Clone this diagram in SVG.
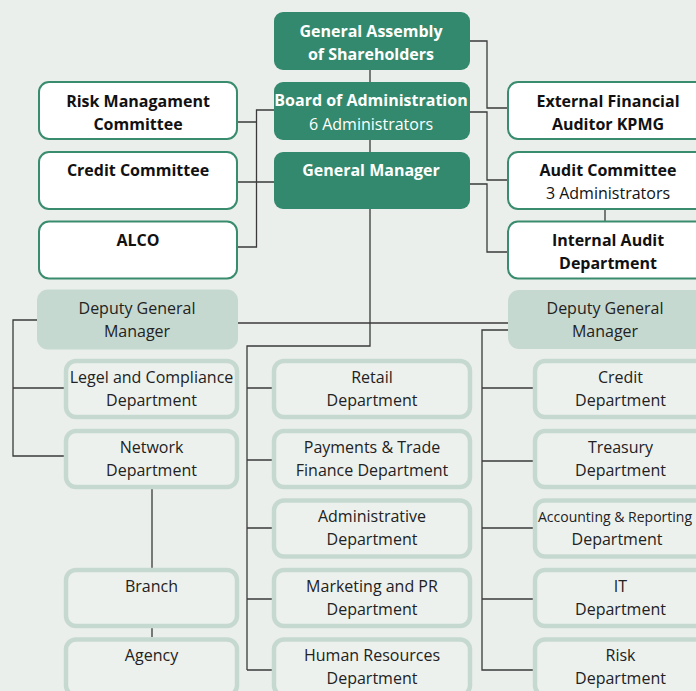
<svg xmlns="http://www.w3.org/2000/svg" width="696" height="691" viewBox="0 0 696 691">
<style>
.bg{fill:#ebefec}
.dark rect{fill:#33896d}
.white rect{fill:#ffffff;stroke:#3a8c6f;stroke-width:2}
.dgm rect{fill:#c6d9d0}
.light rect{fill:#edf1ee;stroke:#c6d9d0;stroke-width:4.5}
text{font-family:"Open Sans","Noto Sans","DejaVu Sans",sans-serif;font-size:16px;text-anchor:middle}
.dark text{fill:#ffffff}
.b{font-weight:bold}
.white text{fill:#111111}
.dgm text,.light text{fill:#222222}
.conn path{fill:none;stroke:#3a3a3a;stroke-width:1.3}
</style>
<rect class="bg" x="0" y="0" width="696" height="691"/>
<g class="conn" id="connectors">
<path d="M370 70V82M370 140V152M370 209V346H247V670M247 388H272M247 460H272M247 528H272M247 599H272M247 670H272"/>
<path d="M470 41H487V108H508M470 112H487V180H508M470 184H487V252H508M605 209V221"/>
<path d="M274 110H256.5V247H237M237 122H256.5M237 182H274"/>
<path d="M238 323H508"/>
<path d="M37 320H13V456H64M13 388H64M152 489V568M152 628V637"/>
<path d="M508 330H482V670H533M482 388H533M482 461H533M482 528H533M482 599H533"/>
</g>
<g id="general-assembly" class="dark"><rect x="274" y="12" width="196" height="58" rx="9"/><text class="b" x="371" y="37">General Assembly</text><text class="b" x="371" y="60">of Shareholders</text></g>
<g id="board" class="dark"><rect x="274" y="82" width="196" height="58" rx="9"/><text class="b" x="371" y="106">Board of Administration</text><text x="371" y="129.5">6 Administrators</text></g>
<g id="general-manager" class="dark"><rect x="274" y="152" width="196" height="57" rx="9"/><text class="b" x="371" y="176">General Manager</text></g>
<g id="risk-committee" class="white"><rect x="39" y="82" width="198" height="57" rx="10"/><text class="b" x="138" y="107">Risk Managament</text><text class="b" x="138" y="129.5">Committee</text></g>
<g id="credit-committee" class="white"><rect x="39" y="152" width="198" height="57" rx="10"/><text class="b" x="138" y="176">Credit Committee</text></g>
<g id="alco" class="white"><rect x="39" y="221.5" width="198" height="57" rx="10"/><text class="b" x="138" y="245.5">ALCO</text></g>
<g id="external-auditor" class="white"><rect x="508" y="82" width="200" height="57" rx="10"/><text class="b" x="608" y="107">External Financial</text><text class="b" x="608" y="129.5">Auditor KPMG</text></g>
<g id="audit-committee" class="white"><rect x="508" y="152" width="200" height="57" rx="10"/><text class="b" x="608" y="176">Audit Committee</text><text x="608" y="199">3 Administrators</text></g>
<g id="internal-audit" class="white"><rect x="508" y="221.5" width="200" height="57" rx="10"/><text class="b" x="608" y="246">Internal Audit</text><text class="b" x="608" y="268.5">Department</text></g>
<g id="dgm-left" class="dgm"><rect x="37" y="289.5" width="201" height="60" rx="11"/><text x="137" y="313.5">Deputy General</text><text x="137" y="337">Manager</text></g>
<g id="dgm-right" class="dgm"><rect x="508" y="290" width="200" height="59" rx="11"/><text x="605" y="313.5">Deputy General</text><text x="605" y="337">Manager</text></g>
<g id="legal" class="light"><rect x="66" y="361" width="171" height="56" rx="10"/><text x="151.5" y="383">Legel and Compliance</text><text x="151.5" y="405.5">Department</text></g>
<g id="network" class="light"><rect x="66" y="431" width="171" height="56" rx="10"/><text x="151.5" y="453">Network</text><text x="151.5" y="475.5">Department</text></g>
<g id="branch" class="light"><rect x="66" y="570" width="171" height="56" rx="10"/><text x="151.5" y="592">Branch</text></g>
<g id="agency" class="light"><rect x="66" y="639.5" width="171" height="56" rx="10"/><text x="151.5" y="661">Agency</text></g>
<g id="retail" class="light"><rect x="274" y="361" width="196" height="56" rx="10"/><text x="372" y="383">Retail</text><text x="372" y="405.5">Department</text></g>
<g id="payments" class="light"><rect x="274" y="431" width="196" height="56" rx="10"/><text x="372" y="453">Payments &amp; Trade</text><text x="372" y="475.5">Finance Department</text></g>
<g id="administrative" class="light"><rect x="274" y="500.5" width="196" height="56" rx="10"/><text x="372" y="522">Administrative</text><text x="372" y="544.5">Department</text></g>
<g id="marketing" class="light"><rect x="274" y="570" width="196" height="56" rx="10"/><text x="372" y="592">Marketing and PR</text><text x="372" y="614.5">Department</text></g>
<g id="hr" class="light"><rect x="274" y="639.5" width="196" height="56" rx="10"/><text x="372" y="661">Human Resources</text><text x="372" y="684">Department</text></g>
<g id="credit-dept" class="light"><rect x="535" y="361" width="171" height="56" rx="10"/><text x="620.5" y="383">Credit</text><text x="620.5" y="405.5">Department</text></g>
<g id="treasury" class="light"><rect x="535" y="431" width="171" height="56" rx="10"/><text x="620.5" y="453">Treasury</text><text x="620.5" y="475.5">Department</text></g>
<g id="accounting" class="light"><rect x="535" y="500.5" width="171" height="56" rx="10"/><text x="615" y="522" style="font-size:14px">Accounting &amp; Reporting</text><text x="617" y="544.5">Department</text></g>
<g id="it" class="light"><rect x="535" y="570" width="171" height="56" rx="10"/><text x="620.5" y="592">IT</text><text x="620.5" y="614.5">Department</text></g>
<g id="risk-dept" class="light"><rect x="535" y="639.5" width="171" height="56" rx="10"/><text x="620.5" y="661">Risk</text><text x="620.5" y="684">Department</text></g>
</svg>
